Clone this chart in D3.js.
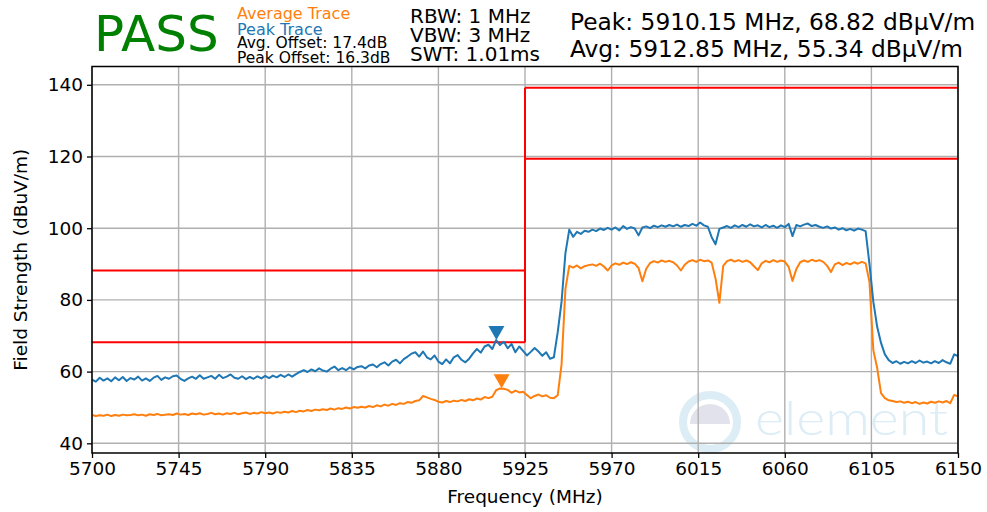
<!DOCTYPE html>
<html>
<head>
<meta charset="utf-8">
<script src="https://cdn.jsdelivr.net/npm/d3@7"></script>
<style>
  html, body { margin: 0; padding: 0; background: #fff; }
  svg { display: block; font-family: "DejaVu Sans", sans-serif; }
</style>
</head>
<body>
<svg id="chart" width="987" height="512"></svg>
<script>
// ---------------- DATA ----------------
const sweepStartMHz = 5700;
const sweepStepMHz = 2;

const peakTrace = [
  57.8, 57.2, 58.3, 57.5, 58.1, 57.3, 58.4, 57.6, 58.5, 57.4,
  58.2, 57.8, 58.6, 57.5, 58.1, 57.4, 58.3, 58.8, 57.7, 58.4,
  58.0, 58.7, 58.9, 58.0, 57.4, 58.1, 58.6, 58.0, 59.0, 58.0,
  58.4, 58.8, 58.0, 59.1, 58.2, 58.6, 59.2, 58.3, 58.0, 58.7,
  57.9, 58.5, 58.0, 58.7, 58.1, 58.8, 58.2, 58.9, 58.4, 59.1,
  58.5, 59.2, 58.6, 59.3, 59.9, 60.4, 59.9, 60.6, 60.1, 60.9,
  60.3, 60.0, 60.8, 61.4, 60.4, 61.0, 60.4, 61.2, 60.6, 61.3,
  61.5, 60.9, 61.7, 62.0, 61.2, 62.1, 62.6, 61.7, 62.8, 63.3,
  62.3, 63.5, 64.2, 65.0, 65.4, 64.2, 65.6, 64.0, 63.4, 64.5,
  62.8, 62.1, 63.4, 62.3, 64.0, 64.6, 63.3, 62.6, 63.6, 65.1,
  66.3, 65.3, 67.0, 67.5, 66.3, 68.8, 67.4, 68.3, 66.5, 67.7,
  65.4, 67.0, 65.8, 64.5, 65.5, 66.6, 65.6, 64.4, 65.4, 63.6,
  64.0, 71.0, 79.5, 93.0, 99.6, 97.6, 99.0, 98.4, 99.3, 99.0,
  99.6, 99.2, 99.9, 99.5, 100.1, 99.6, 100.2, 99.4, 100.6, 99.8,
  100.3, 99.9, 98.0, 100.2, 100.5, 100.0, 100.7, 100.3, 100.8, 100.4,
  100.9, 100.5, 101.0, 100.4, 100.9, 100.6, 101.2, 100.7, 101.6, 100.8,
  100.4, 97.5, 95.5, 99.8, 100.2, 100.6, 100.1, 100.8, 100.3, 100.9,
  100.4, 101.1, 100.5, 100.8, 100.2, 100.9, 100.3, 100.7, 100.1, 100.8,
  100.3, 101.2, 97.8, 100.9, 100.5, 101.0, 101.3, 100.6, 100.9, 100.4,
  100.1, 100.5, 99.9, 100.2, 99.6, 100.0, 99.4, 99.8, 99.3, 99.9,
  99.6, 99.2, 90.0, 79.5, 72.5, 68.0, 64.8, 63.2, 62.4, 62.9,
  62.2, 62.7, 62.3, 62.9, 62.4, 63.1, 62.5, 62.8, 62.3, 62.9,
  62.4, 63.2, 62.6, 62.2, 64.8, 64.3
];

const averageTrace = [
  47.9, 47.6, 47.8, 47.7, 48.0, 47.6, 47.9, 47.7, 48.0, 47.8,
  47.9, 48.1, 47.8, 48.0, 47.7, 48.1, 47.9, 48.2, 47.8, 48.0,
  48.1, 47.9, 48.3, 48.0, 48.2, 47.9, 48.3, 48.1, 48.4, 48.0,
  48.2, 48.5, 48.1, 48.3, 48.0, 48.4, 48.2, 48.5, 48.1, 48.4,
  48.6, 48.2, 48.5, 48.3, 48.7, 48.4, 48.6, 48.3, 48.7, 48.5,
  48.8, 48.6, 49.0, 48.7, 49.1, 48.9, 49.3, 49.0, 49.4, 49.2,
  49.5, 49.3, 49.7, 49.4, 49.8, 49.6, 50.0, 49.7, 50.1, 49.9,
  50.2, 50.0, 50.4, 50.1, 50.6, 50.3, 50.8, 50.5, 51.0, 50.7,
  51.2, 51.0, 51.5, 51.3, 51.8, 52.0, 53.2, 52.8, 52.4, 52.1,
  51.6, 51.4, 51.8, 51.5, 51.9, 51.7, 52.1, 51.8, 52.3, 52.0,
  52.5, 52.2, 52.9, 52.6, 53.0, 54.8, 55.3, 55.2, 54.9, 54.1,
  54.7, 54.2, 54.4, 53.5, 52.6, 53.2, 53.6, 53.1, 53.4, 52.7,
  52.6, 53.4, 62.0, 83.0, 89.5, 89.0, 89.6, 88.8, 89.4, 89.7,
  89.9, 89.5, 90.1, 89.3, 88.2, 89.6, 90.2, 89.8, 90.4, 90.0,
  90.5, 90.1, 88.9, 85.2, 88.7, 90.3, 90.8, 90.4, 91.0, 90.6,
  90.9, 90.5, 89.6, 88.2, 89.8, 90.7, 91.1, 90.6, 91.2, 90.8,
  91.0, 90.4, 86.0, 79.2, 89.5, 90.8, 91.2, 90.7, 91.1, 90.6,
  91.0, 90.5, 89.4, 88.3, 90.2, 90.9, 90.5, 91.1, 90.6, 91.0,
  90.7, 89.2, 85.3, 88.6, 90.5, 91.0, 90.6, 91.2, 90.8, 91.1,
  90.6, 89.5, 87.8, 89.9, 90.4, 89.7, 90.3, 89.9, 90.5, 90.1,
  90.6, 90.2, 85.0, 66.0, 61.0, 54.0, 52.6, 52.0, 51.8, 51.5,
  51.7, 51.3, 51.6, 51.2, 51.5, 51.0, 51.4, 51.1, 51.6, 51.3,
  51.7, 51.4, 51.8, 51.2, 53.5, 53.1
];

// Limit lines: [startMHz, endMHz, level dBuV/m]
const limitSegments = [
  [5700, 5925, 68.2],
  [5700, 5925, 88.2],
  [5925, 6150, 119.4],
  [5925, 6150, 139.2]
];
const limitStep = [5925, 68.2, 139.2]; // vertical edge: freq, from, to

const peakMarker = { freq: 5910.15, level: 68.82 };
const avgMarker = { freq: 5912.85, level: 55.34 };

const xTicks = [5700, 5745, 5790, 5835, 5880, 5925, 5970, 6015, 6060, 6105, 6150];
const yTicks = [40, 60, 80, 100, 120, 140];

const headerInfo = {
  verdict: "PASS",
  legendAvg: "Average Trace",
  legendPeak: "Peak Trace",
  avgOffset: "Avg. Offset: 17.4dB",
  peakOffset: "Peak Offset: 16.3dB",
  rbw: "RBW: 1 MHz",
  vbw: "VBW: 3 MHz",
  swt: "SWT: 1.01ms",
  peakText: "Peak: 5910.15 MHz, 68.82 dBµV/m",
  avgText: "Avg: 5912.85 MHz, 55.34 dBµV/m"
};

// ---------------- CHART ----------------
const blue = "#1f77b4", orange = "#ff7f0e";
const svg = d3.select("#chart");
const plotL = 92, plotR = 958, plotT = 66.5, plotB = 453;

const x = d3.scaleLinear().domain([5700, 6150]).range([plotL, plotR]);
const y = d3.scaleLinear().domain([37.3, 145.1]).range([plotB, plotT]);

const freqs = peakTrace.map((_, i) => sweepStartMHz + sweepStepMHz * i);

// watermark
const wm = svg.append("g").attr("opacity", 0.85);
wm.append("circle").attr("cx", 710).attr("cy", 422).attr("r", 27)
  .attr("fill", "none").attr("stroke", "#d6eaf5").attr("stroke-width", 8);
wm.append("path")
  .attr("d", d3.arc().innerRadius(0).outerRadius(20).startAngle(-Math.PI / 2).endAngle(Math.PI / 2)())
  .attr("transform", "translate(710,424)")
  .attr("fill", "#dcdde8");
wm.append("text").attr("x", 755).attr("y", 435)
  .attr("font-family", "Lato, 'Open Sans', sans-serif").attr("font-weight", 300)
  .attr("font-size", 48).attr("fill", "#d6eaf5")
  .attr("textLength", 193).attr("lengthAdjust", "spacingAndGlyphs")
  .text("element");

// grid
const grid = svg.append("g");
grid.selectAll(".gx").data(xTicks).join("line")
  .attr("x1", d => x(d)).attr("x2", d => x(d)).attr("y1", plotT).attr("y2", plotB)
  .attr("stroke", "#b0b0b0").attr("stroke-width", 1.4);
grid.selectAll(".gy").data(yTicks).join("line")
  .attr("x1", plotL).attr("x2", plotR).attr("y1", d => y(d)).attr("y2", d => y(d))
  .attr("stroke", "#b0b0b0").attr("stroke-width", 1.4);

// limit lines
const lim = svg.append("g");
lim.selectAll("line.seg").data(limitSegments).join("line")
  .attr("x1", d => x(d[0])).attr("x2", d => x(d[1]))
  .attr("y1", d => y(d[2])).attr("y2", d => y(d[2]))
  .attr("stroke", "#ff0000").attr("stroke-width", 2);
lim.append("line")
  .attr("x1", x(limitStep[0])).attr("x2", x(limitStep[0]))
  .attr("y1", y(limitStep[1])).attr("y2", y(limitStep[2]))
  .attr("stroke", "#ff0000").attr("stroke-width", 2);

// traces
const line = d3.line().x((d, i) => x(freqs[i])).y(d => y(d));
svg.append("clipPath").attr("id", "clip").append("rect")
  .attr("x", plotL).attr("y", plotT).attr("width", plotR - plotL).attr("height", plotB - plotT);
svg.append("path").datum(averageTrace).attr("d", line)
  .attr("fill", "none").attr("stroke", orange).attr("stroke-width", 2).attr("stroke-linejoin", "round")
  .attr("clip-path", "url(#clip)");
svg.append("path").datum(peakTrace).attr("d", line)
  .attr("fill", "none").attr("stroke", blue).attr("stroke-width", 2).attr("stroke-linejoin", "round")
  .attr("clip-path", "url(#clip)");

// markers (downward triangles, tip at the value)
function tri(m, color) {
  const cx = x(m.freq), ty = y(m.level);
  svg.append("path")
    .attr("d", `M${cx - 8},${ty - 14}L${cx + 8},${ty - 14}L${cx},${ty}Z`)
    .attr("fill", color);
}
tri(peakMarker, blue);
tri(avgMarker, orange);

// axes
const xAxis = d3.axisBottom(x).tickValues(xTicks).tickSize(5).tickPadding(4).tickFormat(d3.format("d"));
const yAxis = d3.axisLeft(y).tickValues(yTicks).tickSize(5).tickPadding(4);
const gx = svg.append("g").attr("transform", `translate(0,${plotB})`).call(xAxis);
const gy = svg.append("g").attr("transform", `translate(${plotL},0)`).call(yAxis);
[gx, gy].forEach(g => {
  g.select(".domain").remove();
  g.selectAll("line").attr("stroke", "#000").attr("stroke-width", 1.3);
  g.selectAll("text").attr("font-family", "DejaVu Sans").attr("font-size", 18.5).attr("fill", "#000");
});

// frame
svg.append("rect").attr("x", plotL).attr("y", plotT).attr("width", plotR - plotL).attr("height", plotB - plotT)
  .attr("fill", "none").attr("stroke", "#000").attr("stroke-width", 1.5);

// axis labels
svg.append("text").attr("x", (plotL + plotR) / 2).attr("y", 503).attr("text-anchor", "middle")
  .attr("font-size", 18.5).text("Frequency (MHz)");
svg.append("text").attr("transform", `translate(27,${(plotT + plotB) / 2}) rotate(-90)`)
  .attr("text-anchor", "middle").attr("font-size", 18.5).text("Field Strength (dBuV/m)");

// header
svg.append("text").attr("x", 94).attr("y", 51).attr("font-size", 50).attr("fill", "#008000").text(headerInfo.verdict);
svg.append("text").attr("x", 237).attr("y", 18.5).attr("font-size", 16).attr("fill", orange).text(headerInfo.legendAvg);
svg.append("text").attr("x", 237).attr("y", 34.5).attr("font-size", 16).attr("fill", blue).text(headerInfo.legendPeak);
svg.append("text").attr("x", 237).attr("y", 48).attr("font-size", 15.5).attr("fill", "#000").text(headerInfo.avgOffset);
svg.append("text").attr("x", 237).attr("y", 62.5).attr("font-size", 15.5).attr("fill", "#000").text(headerInfo.peakOffset);
svg.append("text").attr("x", 410).attr("y", 23).attr("font-size", 20).attr("fill", "#000").text(headerInfo.rbw);
svg.append("text").attr("x", 410).attr("y", 41.5).attr("font-size", 20).attr("fill", "#000").text(headerInfo.vbw);
svg.append("text").attr("x", 410).attr("y", 61).attr("font-size", 20).attr("fill", "#000").text(headerInfo.swt);
svg.append("text").attr("x", 570).attr("y", 30).attr("font-size", 23.3).attr("fill", "#000").text(headerInfo.peakText);
svg.append("text").attr("x", 570).attr("y", 56.5).attr("font-size", 23.3).attr("fill", "#000").text(headerInfo.avgText);
</script>
</body>
</html>
